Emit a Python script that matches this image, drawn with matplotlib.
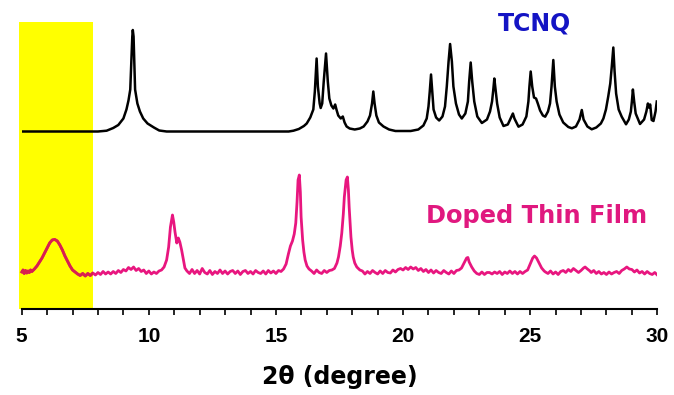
import matplotlib
matplotlib.use("Agg")
import matplotlib.pyplot as plt
from matplotlib.ticker import MultipleLocator
from matplotlib.patches import Rectangle

# ---------------- data ----------------
tcnq_2theta = [5.0, 8.0, 8.34, 8.6, 8.8, 9.0, 9.12, 9.2, 9.27, 9.31, 9.35, 9.37, 9.40, 9.43, 9.46,
               9.55, 9.65, 9.78, 9.95, 10.2, 10.41, 10.7, 15.5, 15.69, 15.9, 16.1, 16.21, 16.35,
               16.47, 16.53, 16.6, 16.65, 16.72, 16.76, 16.82, 16.88, 16.97, 17.04, 17.1, 17.18,
               17.26, 17.33, 17.38, 17.45, 17.55, 17.63, 17.7, 17.78, 17.9, 18.1, 18.3, 18.45,
               18.6, 18.7, 18.78, 18.83, 18.88, 18.95, 19.05, 19.23, 19.45, 19.7, 20.3, 20.6,
               20.8, 20.93, 21.0, 21.05, 21.1, 21.15, 21.2, 21.3, 21.42, 21.55, 21.65, 21.72,
               21.79, 21.85, 21.92, 21.98, 22.08, 22.2, 22.31, 22.45, 22.55, 22.6, 22.66, 22.72,
               22.8, 22.92, 23.1, 23.3, 23.42, 23.5, 23.55, 23.59, 23.64, 23.7, 23.8, 23.95,
               24.12, 24.25, 24.32, 24.38, 24.54, 24.7, 24.85, 24.93, 24.97, 25.02, 25.08, 25.15,
               25.23, 25.3, 25.39, 25.5, 25.59, 25.7, 25.78, 25.84, 25.91, 25.97, 26.04, 26.15,
               26.3, 26.5, 26.64, 26.8, 26.94, 27.03, 27.1, 27.25, 27.42, 27.6, 27.78, 27.88,
               27.98, 28.07, 28.15, 28.21, 28.27, 28.32, 28.38, 28.48, 28.6, 28.77, 28.88, 28.96,
               29.0, 29.04, 29.09, 29.15, 29.32, 29.48, 29.57, 29.63, 29.67, 29.72, 29.78, 29.85,
               29.93, 29.98]
tcnq_intensity = [0, 0, 0.8, 3.5, 6.5, 13, 22, 31, 42, 70, 95, 101.5, 95, 70, 42,
                  28, 20, 13, 8, 4, 1, 0, 0, 0.8, 2.5, 5.5, 8, 14,
                  22, 40, 73, 45, 28, 23.5, 28, 50, 78, 50, 33, 26,
                  23, 27, 22, 16, 13, 15, 9, 5, 3, 2, 3, 5,
                  10, 16, 28, 40, 28, 16, 9, 5, 2, 0.5, 0.5, 2,
                  6, 13, 25, 40, 57, 40, 22, 14, 11, 15, 25, 45,
                  70, 87.5, 70, 45, 28, 17, 13, 18, 30, 50, 69, 50,
                  30, 15, 8.5, 12, 20, 30, 42, 53, 42, 28, 14, 5.5,
                  7, 14, 18, 13, 4.8, 7, 15, 30, 45, 60, 45, 34,
                  33, 28, 21, 16, 14.8, 20, 28, 45, 71.5, 45, 30, 17,
                  9, 4.5, 3.2, 5, 12, 21.5, 12, 5, 2.2, 4, 8, 13,
                  22, 35, 48, 65, 84, 60, 38, 22, 14.8, 7.2, 12, 20,
                  30, 42, 30, 18, 7.5, 12, 20, 28, 24, 27, 11.5, 10.5,
                  20, 30]

film_2theta = [5.0, 5.05, 5.1, 5.15, 5.2, 5.25, 5.3, 5.35, 5.4, 5.5, 5.6, 5.7, 5.8, 5.9, 6.0,
               6.1, 6.2, 6.3, 6.4, 6.5,
               6.6, 6.7, 6.8, 6.9, 7.0, 7.1, 7.2, 7.3, 7.4, 7.5, 7.6, 7.7, 7.8, 7.9, 8.0, 8.1,
               8.2, 8.3, 8.4, 8.5, 8.6, 8.7, 8.8, 8.9, 9.0, 9.1, 9.2, 9.3, 9.4, 9.5, 9.6, 9.7,
               9.8, 9.9, 10.0, 10.1, 10.2, 10.3, 10.4, 10.5, 10.6, 10.7, 10.78, 10.85, 10.93,
               10.98, 11.03, 11.1, 11.16, 11.22, 11.29, 11.36, 11.42, 11.5, 11.6, 11.7, 11.8,
               11.9, 12.0, 12.1, 12.2, 12.3, 12.4, 12.5, 12.6, 12.7, 12.8, 12.9, 13.0, 13.1,
               13.2, 13.3, 13.4, 13.5, 13.6, 13.7, 13.8, 13.9, 14.0, 14.1, 14.2, 14.3, 14.4,
               14.5, 14.6, 14.7, 14.8, 14.9, 15.0, 15.1, 15.2, 15.3, 15.4, 15.49, 15.57, 15.65,
               15.72, 15.78, 15.83, 15.87, 15.92, 15.96, 15.99, 16.05, 16.1, 16.15, 16.22, 16.3,
               16.4, 16.5, 16.6, 16.7, 16.8, 16.9, 17.0, 17.1, 17.2, 17.3, 17.4, 17.46, 17.53,
               17.59, 17.65, 17.69, 17.76, 17.81, 17.85, 17.88, 17.95, 18.0, 18.04, 18.1, 18.18,
               18.3, 18.4, 18.5, 18.6, 18.7, 18.8, 18.9, 19.0, 19.1, 19.2, 19.3, 19.4, 19.5,
               19.6, 19.7, 19.8, 19.9, 20.0, 20.1, 20.2, 20.3, 20.4, 20.5, 20.6, 20.7, 20.8,
               20.9, 21.0, 21.1, 21.2, 21.3, 21.4, 21.5, 21.6, 21.7, 21.8, 21.9, 22.0, 22.1,
               22.2, 22.3, 22.4, 22.5, 22.55, 22.6, 22.7, 22.8, 22.9, 23.0, 23.1, 23.2, 23.3,
               23.4, 23.5, 23.6, 23.7, 23.8, 23.9, 24.0, 24.1, 24.2, 24.3, 24.4, 24.5, 24.6,
               24.7, 24.8, 24.9, 25.0, 25.1, 25.17, 25.25, 25.35, 25.45, 25.55, 25.6, 25.7,
               25.8, 25.9, 26.0, 26.1, 26.2, 26.3, 26.4, 26.5, 26.6, 26.7, 26.8, 26.9, 27.0,
               27.1, 27.16, 27.25, 27.35, 27.4, 27.5, 27.6, 27.7, 27.8, 27.9, 28.0, 28.1, 28.2,
               28.3, 28.4, 28.5, 28.6, 28.7, 28.8, 28.9, 29.0, 29.1, 29.2, 29.3, 29.4, 29.5,
               29.6, 29.7, 29.8, 29.9, 30.0]
film_intensity = [0, 2, -1.5, 1.5, -1, 1, -0.5, 2, 0.5, 3, 6, 10, 14, 19, 24,
                  29, 32, 32.5, 31, 27,
                  22, 16, 11, 6, 2, 0, -2, -3.5, -1.5, -4, -1.5, -3.5, -1, -3, -0.5, -2.5,
                  0.5, -2, 0, -2, 0.5, -1.5, 1.5, -0.5, 2.5, 1, 4.5, 2.5, 5, 1.5, 3.5, 0.5,
                  2, -1.5, 1, -2, 0, -1.5, 1, 2, 5, 12, 25, 45, 57,
                  50, 40, 29, 34, 30, 22, 12, 4, 1, -1.5, 2.5, -1.5,
                  1.5, -2, 3.5, -0.5, -2, 1.5, -2.5, 0.5, -1.5, 2, -1.5, 1, -2,
                  0.5, 1.5, -1.5, 1, -2.5, 0.5, 1.5, -1.5, 0.5, -2, 1.5, -0.5, -1.5,
                  1, -2, 1.5, -1, 1, -1.5, 1.5, 0.5, 3, 8, 18, 26, 31,
                  38, 49, 70, 92, 97, 80, 55, 32, 20, 12, 6, 3,
                  1, -1.5, 2, -0.5, -1.5, 1.5, -0.5, 1.5, 2, 3.5, 9, 15, 26,
                  39, 58, 75, 92, 95, 82, 65, 35, 22, 15, 9, 5,
                  2, 1, -2, 0.5, -1.5, 1.5, -0.5, -2, 1, -1.5, 1.5, -0.5, -1,
                  2, 0, 2.5, 3.5, 2, 4.5, 2.5, 5, 3, 4.5, 1.5, 3.5, 0.5,
                  2.5, -0.5, 2, -1, 1.5, -0.5, -1.5, 1.5, -0.5, -2, 1, -1.5, 1.5,
                  2, 4, 9, 14, 14.5, 10, 5, 1, -1.5, -2.5, 0, -2.5, -0.5,
                  -0.5, -2, 0, -1.5, 0.5, -2.5, 0, -1.5, 1, -1.5, 0.5, -2, 0.5,
                  -1.5, 0.5, 2, 8, 14, 16, 14, 9, 4, 1, 0, -1.5,
                  1, -2, 0, -2.5, 0.5, 1.5, -0.5, 2.5, 0.5, 3.5, 1.5, -0.5, 1.5,
                  4, 5, 3, 1, -0.5, 1.5, -1.5, 0.5, -2, -0.5, -2.5, 0, -2,
                  -0.5, 0.5, -1.5, 1.5, 3, 5, 3, 2.5, 0, 2, -1, 0.5, -2,
                  0.5, -1.5, -2.5, -0.5, -3]

xticks_major = [5, 10, 15, 20, 25, 30]
highlight_range = [4.88, 7.8]
label_tcnq = "TCNQ"
label_film = "Doped Thin Film"
xlabel = "2\u03b8 (degree)"

# ---------------- figure ----------------
W, H = 674, 395
fig = plt.figure(figsize=(W / 100, H / 100), dpi=100)
ax_left, ax_right = 21.7, 657.3
ax_top, ax_bottom = 21.7, 309.3
ax = fig.add_axes([ax_left / W, (H - ax_bottom) / H,
                   (ax_right - ax_left) / W, (ax_bottom - ax_top) / H])

tcnq_offset = ax_bottom - 131.5
film_offset = ax_bottom - 272.0

ax.axvspan(highlight_range[0], highlight_range[1], color="#FFFF00", zorder=0,
           clip_on=False, lw=0)
ax.plot(tcnq_2theta, [v + tcnq_offset for v in tcnq_intensity],
        color="black", lw=1.8, zorder=3)
film_y = [v + film_offset for v in film_intensity]
ax.plot(film_2theta, film_y, color="#E8167F", lw=2.0, zorder=3)
# the part over the yellow band looks darker/redder in the reference
over = ax.plot(film_2theta, film_y, color="#D8204E", lw=2.0, zorder=4)[0]
clip_rect = Rectangle((highlight_range[0], 0), highlight_range[1] - highlight_range[0],
                      ax_bottom - ax_top, transform=ax.transData)
over.set_clip_path(clip_rect)

ax.set_xlim(5, 30)
ax.set_ylim(0, ax_bottom - ax_top)
ax.set_xticks(xticks_major)
ax.xaxis.set_minor_locator(MultipleLocator(1))
ax.set_yticks([])
for s in ["left", "right", "top"]:
    ax.spines[s].set_visible(False)
ax.spines["bottom"].set_linewidth(1.5)
ax.tick_params(axis="x", which="major", length=4.5, width=1.2, direction="out",
               pad=8, labelsize=15)
ax.tick_params(axis="x", which="minor", length=4.0, width=1.2, direction="out")
for lab in ax.get_xticklabels():
    lab.set_fontfamily("Liberation Sans")
    lab.set_fontweight("bold")

ax.set_xlabel(xlabel, fontsize=17, fontweight="bold", family="DejaVu Sans",
              labelpad=14)

ax.text(25.18, 309.3 - 30, label_tcnq, color="#1414C4", fontsize=17,
        fontweight="bold", family="DejaVu Sans", ha="center", va="baseline")
ax.text(25.27, 309.3 - 223.3, label_film, color="#E0187F", fontsize=17.4,
        fontweight="bold", family="DejaVu Sans", ha="center", va="baseline")

fig.savefig("out.png", dpi=100, facecolor="white")
